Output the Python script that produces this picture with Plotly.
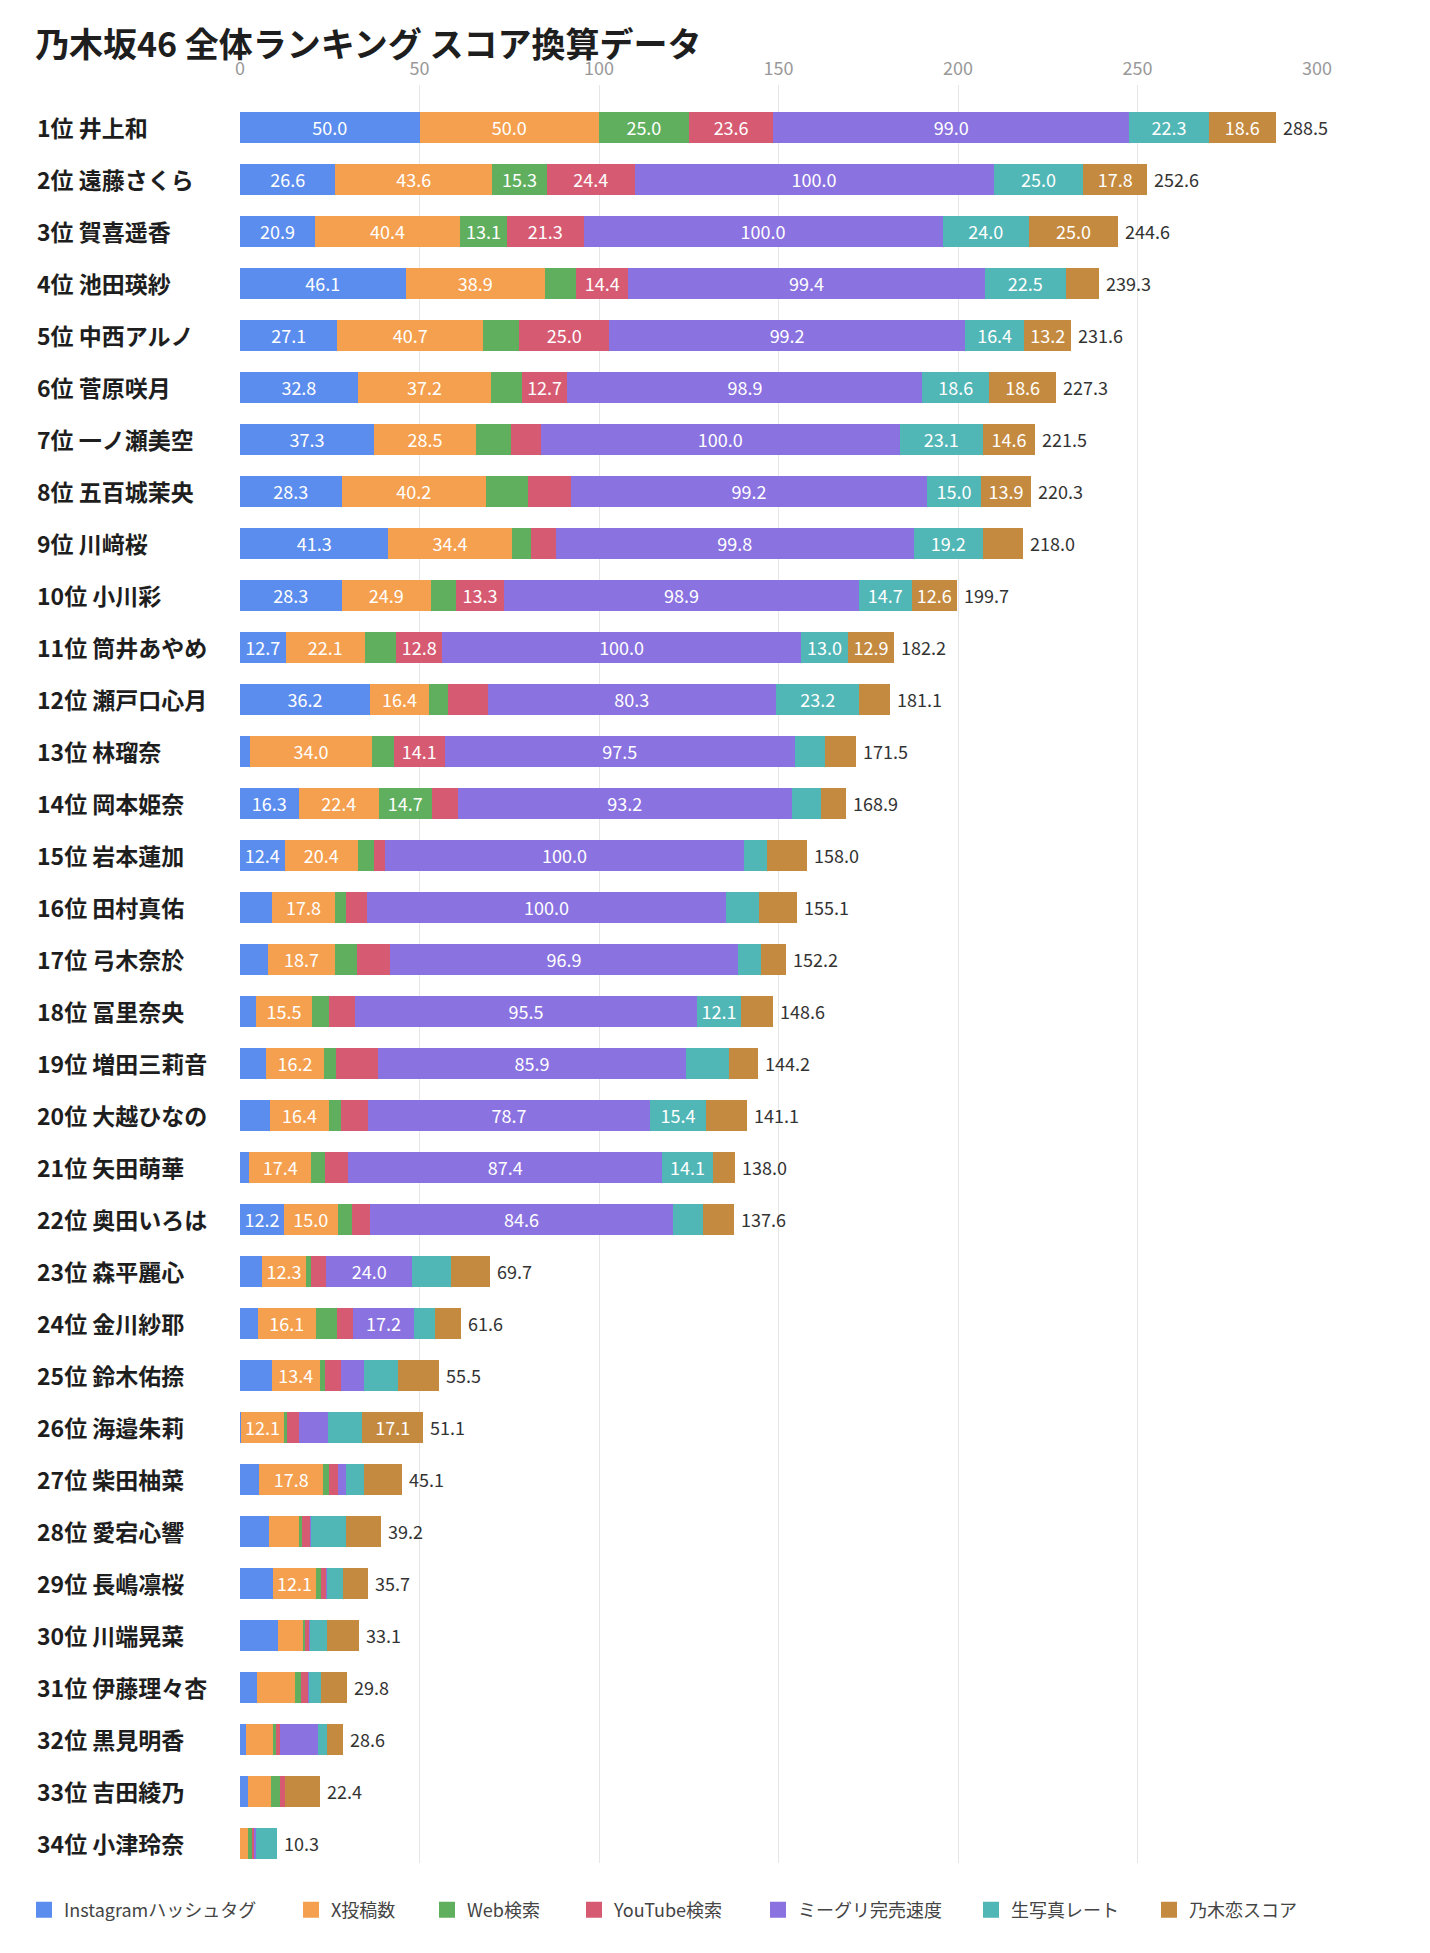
import plotly.graph_objects as go

names = ["1位 井上和", "2位 遠藤さくら", "3位 賀喜遥香", "4位 池田瑛紗", "5位 中西アルノ",
         "6位 菅原咲月", "7位 一ノ瀬美空", "8位 五百城茉央", "9位 川﨑桜", "10位 小川彩",
         "11位 筒井あやめ", "12位 瀬戸口心月", "13位 林瑠奈", "14位 岡本姫奈", "15位 岩本蓮加",
         "16位 田村真佑", "17位 弓木奈於", "18位 冨里奈央", "19位 増田三莉音", "20位 大越ひなの",
         "21位 矢田萌華", "22位 奥田いろは", "23位 森平麗心", "24位 金川紗耶", "25位 鈴木佑捺",
         "26位 海邉朱莉", "27位 柴田柚菜", "28位 愛宕心響", "29位 長嶋凛桜", "30位 川端晃菜",
         "31位 伊藤理々杏", "32位 黒見明香", "33位 吉田綾乃", "34位 小津玲奈"]

series_names = ["Instagramハッシュタグ", "X投稿数", "Web検索", "YouTube検索",
                "ミーグリ完売速度", "生写真レート", "乃木恋スコア"]

insta = [50.0, 26.6, 20.9, 46.1, 27.1, 32.8, 37.3, 28.3, 41.3, 28.3, 12.7, 36.2, 2.8, 16.3, 12.4, 8.8, 7.8,
         4.5, 7.2, 8.4, 2.5, 12.2, 6.1, 5.0, 8.8, 0.2, 5.4, 8.1, 9.1, 10.5, 4.6, 1.7, 2.3, 0.0]
xpost = [50.0, 43.6, 40.4, 38.9, 40.7, 37.2, 28.5, 40.2, 34.4, 24.9, 22.1, 16.4, 34.0, 22.4, 20.4, 17.8, 18.7,
         15.5, 16.2, 16.4, 17.4, 15.0, 12.3, 16.1, 13.4, 12.1, 17.8, 8.2, 12.1, 7.3, 10.7, 7.6, 6.3, 2.3]
web = [25.0, 15.3, 13.1, 8.7, 10.0, 8.5, 9.8, 11.8, 5.4, 7.0, 8.7, 5.4, 6.1, 14.7, 4.5, 2.8, 6.1,
       4.7, 3.3, 3.3, 3.9, 3.9, 1.4, 5.8, 1.4, 0.9, 1.7, 1.1, 1.4, 0.3, 1.7, 0.8, 2.6, 1.2]
youtube = [23.6, 24.4, 21.3, 14.4, 25.0, 12.7, 8.2, 11.9, 6.8, 13.3, 12.8, 11.0, 14.1, 7.2, 3.1, 6.0, 9.2,
           7.2, 11.7, 7.5, 6.4, 5.0, 4.2, 4.5, 4.5, 3.1, 2.5, 2.2, 1.4, 1.2, 2.0, 1.1, 1.4, 0.5]
meguri = [99.0, 100.0, 100.0, 99.4, 99.2, 98.9, 100.0, 99.2, 99.8, 98.9, 100.0, 80.3, 97.5, 93.2, 100.0, 100.0, 96.9,
          95.5, 85.9, 78.7, 87.4, 84.6, 24.0, 17.2, 6.3, 8.3, 2.0, 0.2, 0.3, 0.2, 0.2, 10.4, 0.0, 0.4]
photo = [22.3, 25.0, 24.0, 22.5, 16.4, 18.6, 23.1, 15.0, 19.2, 14.7, 13.0, 23.2, 8.5, 7.9, 6.5, 9.2, 6.3,
         12.1, 11.9, 15.4, 14.1, 8.2, 10.7, 5.8, 9.5, 9.4, 5.0, 9.6, 4.3, 4.6, 3.4, 2.6, 0.0, 5.9]
koi = [18.6, 17.8, 25.0, 9.3, 13.2, 18.6, 14.6, 13.9, 11.1, 12.6, 12.9, 8.6, 8.5, 7.2, 11.1, 10.5, 7.2,
       9.1, 8.0, 11.4, 6.3, 8.7, 11.0, 7.2, 11.6, 17.1, 10.7, 9.8, 7.1, 9.0, 7.2, 4.4, 9.8, 0.0]
totals = [288.5, 252.6, 244.6, 239.3, 231.6, 227.3, 221.5, 220.3, 218.0, 199.7, 182.2, 181.1, 171.5, 168.9,
          158.0, 155.1, 152.2, 148.6, 144.2, 141.1, 138.0, 137.6, 69.7, 61.6, 55.5, 51.1, 45.1, 39.2,
          35.7, 33.1, 29.8, 28.6, 22.4, 10.3]

colors = ["#5B8DEE", "#F5A04F", "#5FAF5F", "#D65B72", "#8A72E0", "#50B6B6", "#C48A40"]
x_ticks = [0, 50, 100, 150, 200, 250, 300]

FONT = "Noto Sans CJK JP"
LABEL_MIN = 12.0

# figure geometry (page has an 8px body margin)
W, H = 1422, 1945
ML, MR, MT, MB = 232, 113, 77, 90
PW = W - ML - MR
PH = H - MT - MB

# legend item left edges (page px), one legend per series
legend_left_page = [24, 291, 427, 574, 758, 971, 1149]

fig = go.Figure()
all_series = [insta, xpost, web, youtube, meguri, photo, koi]
legend_ids = ["legend"] + [f"legend{i}" for i in range(2, 8)]
for sname, vals, col in zip(series_names, all_series, colors):
    fig.add_trace(go.Bar(
        y=names, x=vals, name=sname, orientation="h", showlegend=False,
        marker=dict(color=col, line=dict(width=0)),
        text=[f"{v:.1f}" if v >= LABEL_MIN else "" for v in vals],
        textposition="inside", insidetextanchor="middle", textangle=0,
        textfont=dict(color="white", size=18, family=FONT),
        hoverinfo="x+name",
    ))

# legend entries with larger square swatches (no data drawn)
for sname, col, lid in zip(series_names, colors, legend_ids):
    fig.add_trace(go.Scatter(
        x=[None], y=[None], mode="markers", name=sname, legend=lid,
        marker=dict(symbol="square", size=19, color=col), showlegend=True,
    ))

annotations = []
for n in names:
    annotations.append(dict(
        x=(35 - 8 - ML) / PW, xref="paper", y=n, yref="y", text=f"<b>{n}</b>",
        xanchor="left", yanchor="middle", showarrow=False,
        font=dict(size=23, color="#1E1E1E", family=FONT),
    ))
for n, t in zip(names, totals):
    annotations.append(dict(
        x=t, xref="x", y=n, yref="y", text=f"{t:.1f}",
        xanchor="left", yanchor="middle", showarrow=False, xshift=5,
        font=dict(size=18, color="#333333", family=FONT),
    ))

legend_y = -(1902 - (H - MB)) / PH
layout_legends = {}
for lid, lx in zip(legend_ids, legend_left_page):
    layout_legends[lid] = dict(
        orientation="h", x=(lx - 8 - ML) / PW, xanchor="left",
        y=legend_y, yanchor="middle",
        font=dict(size=18, color="#444444", family=FONT),
        bgcolor="rgba(0,0,0,0)",
    )

fig.update_layout(
    width=W, height=H,
    barmode="stack", bargap=0.4,
    plot_bgcolor="white", paper_bgcolor="white",
    margin=dict(l=ML, r=MR, t=MT, b=MB),
    font=dict(family=FONT, color="#333333"),
    title=dict(text="<b>乃木坂46 全体ランキング スコア換算データ</b>",
               x=(35 - 8) / W, xanchor="left", xref="container",
               y=1 - (45 - 8) / H, yanchor="middle",
               font=dict(size=34, color="#1E1E1E", family=FONT)),
    xaxis=dict(side="top", range=[0, 300], tickvals=x_ticks,
               showgrid=True, gridcolor="#E6E6E6", gridwidth=1, zeroline=False,
               showline=False, ticks="", ticklabelstandoff=5,
               tickfont=dict(size=18, color="#999999", family=FONT)),
    yaxis=dict(range=[33.38, -0.81], showticklabels=False, showgrid=False,
               zeroline=False, showline=False, ticks=""),
    uniformtext=dict(minsize=18, mode="show"),
    annotations=annotations,
    showlegend=True,
    **layout_legends,
)

fig.write_html("out.html")
